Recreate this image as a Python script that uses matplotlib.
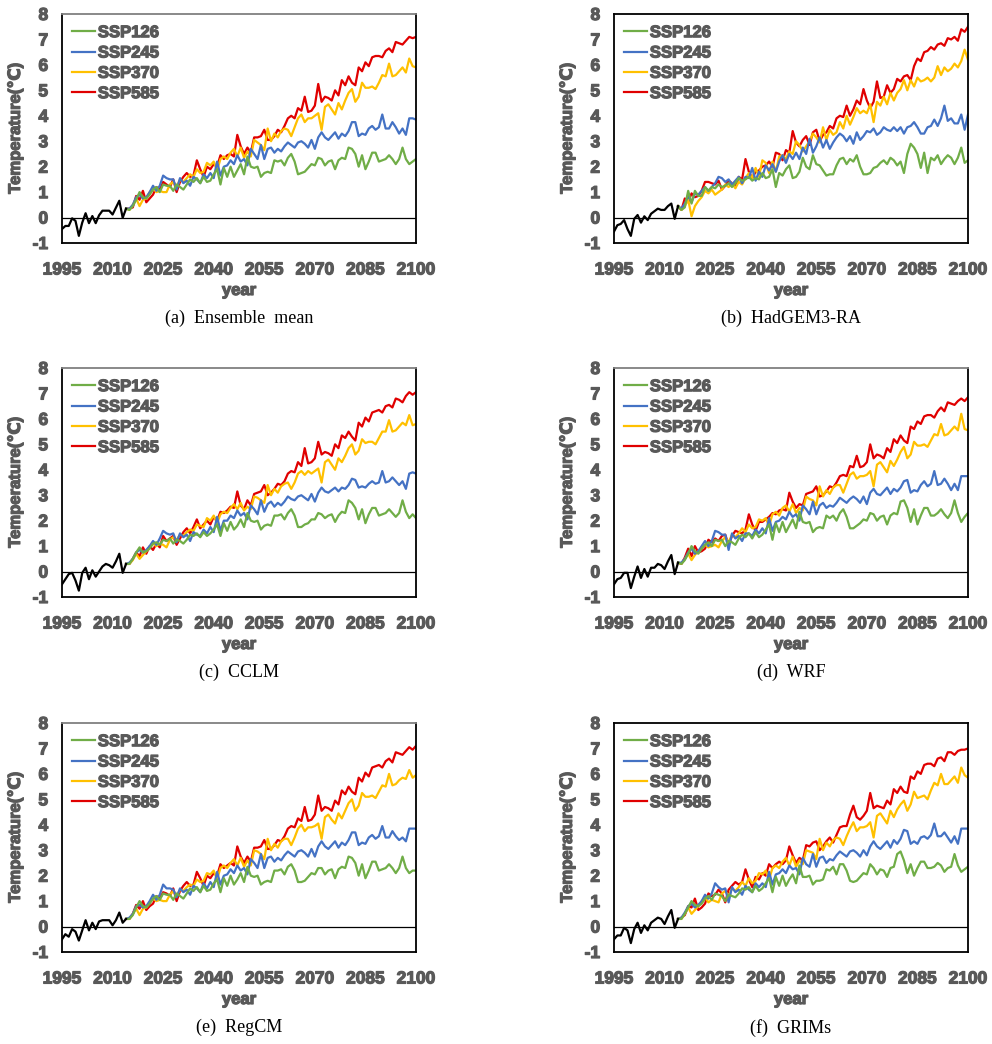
import matplotlib
matplotlib.use("Agg")
import matplotlib.pyplot as plt
import matplotlib.patheffects as pe
import numpy as np

# ---- data -------------------------------------------------------------
HIST_YEARS = list(range(1995, 2015))
SSP_YEARS = list(range(2015, 2101))
SCENARIOS = ["SSP126", "SSP245", "SSP370", "SSP585"]
X_TICKS = [1995, 2010, 2025, 2040, 2055, 2070, 2085, 2100]
Y_TICKS = [-1, 0, 1, 2, 3, 4, 5, 6, 7, 8]
CAPTIONS = ["(a)  Ensemble  mean", "(b)  HadGEM3-RA", "(c)  CCLM",
            "(d)  WRF", "(e)  RegCM", "(f)  GRIMs"]

# (a) Ensemble mean
A_HIST = [-0.45, -0.33, -0.33, -0.03, -0.13, -0.72, -0.2, 0.17, -0.22, 0.06,
          -0.22, 0.09, 0.27, 0.27, 0.27, 0.12, 0.39, 0.66, -0.01, 0.35]
A_SSP126 = [0.3, 0.45, 0.7, 1.0, 0.8, 0.75, 0.9, 1.1, 1.2, 1.0,
            1.3, 1.25, 1.25, 1.05, 1.3, 1.2, 1.1, 1.3, 1.5, 1.4,
            1.55, 1.35, 1.6, 1.4, 1.45, 1.7, 1.9, 1.3, 1.95, 1.6,
            2.0, 1.6, 1.85, 2.1, 1.7, 2.4, 2.0, 1.95, 2.0, 1.6,
            1.75, 1.8, 1.75, 2.25, 2.2, 2.25, 2.05, 2.35, 2.5, 2.2,
            1.7, 1.75, 1.8, 1.95, 2.1, 2.05, 2.35, 2.3, 2.05, 2.2,
            2.25, 1.9, 2.25, 2.35, 2.3, 2.75, 2.7, 2.5, 2.0, 2.45,
            1.9, 2.2, 2.55, 2.55, 2.2, 2.25, 2.3, 2.45, 2.3, 2.1,
            2.3, 2.75, 2.3, 2.1, 2.2, 2.3]
A_SSP245 = [0.35, 0.5, 0.8, 0.9, 0.75, 0.8, 1.0, 1.25, 1.05, 1.25,
            1.65, 1.55, 1.5, 1.5, 1.1, 1.55, 1.35, 1.45, 1.25, 1.6,
            1.5, 1.35, 1.7, 1.55, 1.75, 1.55, 2.2, 1.65, 2.0, 2.05,
            2.25, 2.1, 2.45, 2.2, 2.3, 2.05, 2.7, 2.5, 2.3, 2.85,
            2.3, 2.7, 2.75, 2.55, 2.7, 2.6, 2.8, 2.95, 2.85, 2.75,
            2.95, 3.0, 2.9, 2.75, 3.05, 2.7, 3.15, 3.35, 3.15, 3.05,
            3.2, 3.35, 3.1, 3.3, 3.2, 3.4, 3.75, 3.75, 3.2, 3.3,
            3.25, 3.5, 3.6, 3.45, 3.55, 4.05, 3.5, 3.5, 3.75, 3.55,
            3.3, 3.5, 3.25, 3.9, 3.9, 3.85]
A_SSP370 = [0.3, 0.5, 0.75, 0.45, 0.7, 0.75, 1.0, 1.15, 1.0, 1.05,
            1.0, 1.0, 1.3, 1.4, 1.2, 1.5, 1.4, 1.55, 1.7, 1.6,
            1.9, 1.75, 1.8, 2.15, 2.05, 2.2, 1.85, 2.3, 2.4, 2.3,
            2.55, 2.7, 2.4, 2.75, 2.35, 2.6, 2.4, 3.05, 2.95, 2.85,
            2.65, 3.5, 3.0, 3.3, 3.15, 3.4, 3.5, 3.45, 3.2, 3.55,
            3.9, 4.05, 3.75, 3.9, 3.9, 4.0, 4.1, 3.45, 4.35, 4.45,
            4.25, 4.05, 4.5, 4.25, 4.6, 4.9, 5.05, 4.55, 4.75, 5.3,
            5.1, 5.1, 5.15, 5.05, 5.3, 5.6, 5.55, 6.05, 5.55, 5.6,
            5.75, 5.9, 5.7, 6.25, 5.95, 5.9]
A_SSP585 = [0.35, 0.4, 0.85, 0.7, 1.05, 0.6, 0.75, 0.9, 1.2, 1.1,
            1.4, 1.3, 1.2, 1.5, 1.0, 1.4, 1.6, 1.75, 1.6, 1.65,
            2.25, 1.9, 1.6, 2.0, 1.9, 2.1, 2.0, 2.45, 2.3, 2.45,
            2.5, 2.4, 3.25, 2.8, 2.5, 2.75, 2.55, 3.15, 3.15, 3.2,
            3.45, 3.05, 3.05, 3.2, 3.45, 3.35, 3.6, 3.9, 4.0, 3.9,
            4.3, 4.2, 4.75, 4.15, 4.2, 4.4, 5.25, 4.55, 4.75, 4.7,
            4.6, 5.0, 4.8, 5.4, 5.2, 5.55, 5.3, 5.2, 5.9, 5.75,
            6.1, 5.95, 6.3, 6.35, 6.35, 6.3, 6.55, 6.65, 6.5, 6.9,
            6.85, 6.8, 6.95, 7.1, 7.05, 7.1]

# (b) HadGEM3-RA
B_HIST = [-0.55, -0.3, -0.25, -0.1, -0.45, -0.72, -0.05, 0.1, -0.2, 0.05,
          -0.1, 0.15, 0.25, 0.35, 0.3, 0.3, 0.45, 0.55, -0.05, 0.45]
B_SSP126 = [0.3, 0.4, 1.05, 0.55, 1.05, 0.85, 0.85, 1.2, 1.05, 1.2,
            1.15, 1.3, 1.2, 1.25, 1.35, 1.2, 1.35, 1.55, 1.45, 1.5,
            1.6, 1.45, 1.55, 1.5, 1.75, 1.55, 1.6, 1.9, 1.2, 1.75,
            1.65, 1.9, 2.05, 1.55, 1.6, 1.8, 2.35, 2.0, 1.9, 2.45,
            2.1, 2.05, 1.85, 1.65, 1.7, 1.7, 2.05, 2.3, 2.35, 2.1,
            2.3, 2.2, 2.45, 2.0, 1.7, 1.7, 1.75, 1.95, 2.0, 2.15,
            2.25, 2.1, 2.35, 2.25, 2.05, 2.2, 1.75, 2.5, 2.9, 2.75,
            2.5, 1.95, 2.55, 1.75, 2.35, 2.25, 2.45, 2.1, 2.3, 2.45,
            2.35, 2.1, 2.35, 2.75, 2.15, 2.25]
B_SSP245 = [0.35, 0.55, 0.85, 0.6, 0.95, 0.9, 1.05, 1.2, 1.05, 1.2,
            1.35, 1.6, 1.55, 1.4, 1.5, 1.3, 1.45, 1.6, 1.35, 1.6,
            1.55, 1.95, 1.45, 1.8, 1.6, 2.05, 1.85, 2.1, 1.8, 2.2,
            2.45, 2.15, 2.5, 2.3, 2.55, 2.3, 2.75, 2.5, 3.1, 2.55,
            2.8, 3.15, 2.75, 3.05, 2.7, 2.95, 3.15, 3.3, 3.2, 3.0,
            3.2, 2.9, 3.35, 3.05, 3.2, 3.4, 3.35, 3.5, 3.25, 3.35,
            3.55, 3.45, 3.4, 3.55, 3.4, 3.55, 3.3, 3.55, 3.6, 3.75,
            3.55, 3.3, 3.3, 3.55, 3.6, 3.85, 3.6, 3.9, 4.4, 3.8,
            3.9, 3.7, 3.7, 4.05, 3.45, 4.05]
B_SSP370 = [0.3, 0.45, 0.7, 0.05, 0.45, 0.65, 0.8, 1.05, 0.95, 1.1,
            0.9, 1.0, 1.1, 1.3, 1.2, 1.35, 1.15, 1.4, 1.3, 1.55,
            1.75, 1.55, 1.95, 1.6, 2.25, 2.15, 1.75, 2.2, 1.8, 2.4,
            2.45, 2.3, 2.6, 2.5, 3.0, 2.85, 2.6, 2.8, 3.0, 3.3,
            3.15, 2.95, 3.55, 3.05, 3.45, 3.25, 3.35, 3.75, 3.5, 4.0,
            3.65, 3.95, 4.3, 4.1, 4.2, 4.1, 4.45, 3.75, 4.55, 4.4,
            4.75, 4.45, 4.9, 4.6, 4.9, 5.05, 5.4, 5.0, 5.4, 5.15,
            5.5, 5.35, 5.4, 5.5, 5.35, 5.5, 5.95, 5.6, 5.9, 5.75,
            5.85, 6.05, 5.9, 6.15, 6.6, 6.2]
B_SSP585 = [0.3, 0.75, 0.6, 0.95, 0.8, 0.85, 1.05, 1.4, 1.4, 1.35,
            1.3, 1.45, 1.1, 1.25, 1.45, 1.35, 1.2, 1.6, 1.5, 2.3,
            1.8, 1.55, 1.8, 1.85, 2.0, 2.05, 2.2, 2.0, 2.55, 2.5,
            2.25, 2.65, 2.55, 3.4, 2.95, 2.8, 3.05, 3.2, 2.85, 3.35,
            3.45, 3.0, 3.25, 3.35, 3.6, 3.5, 3.9, 4.0, 3.95, 4.4,
            4.0, 4.25, 4.6, 4.45, 5.05, 4.6, 4.3, 4.55, 5.35, 4.7,
            4.75, 5.2, 4.9, 5.05, 5.45, 5.35, 5.55, 5.6, 5.4, 5.95,
            6.25, 6.15, 6.5, 6.55, 6.7, 6.6, 6.8, 6.85, 6.75, 7.05,
            7.0, 7.1, 6.95, 7.4, 7.3, 7.5]

# (c) CCLM
C_HIST = [-0.5, -0.3, -0.1, -0.05, -0.35, -0.75, -0.05, 0.15, -0.3, 0.05,
          -0.2, 0.0, 0.2, 0.3, 0.25, 0.15, 0.4, 0.7, -0.05, 0.3]
C_SSP126 = [0.3, 0.5, 0.75, 0.95, 0.75, 0.8, 0.9, 1.1, 1.15, 1.05,
            1.25, 1.2, 1.3, 1.1, 1.25, 1.2, 1.1, 1.25, 1.45, 1.4,
            1.5, 1.35, 1.55, 1.4, 1.5, 1.65, 1.85, 1.4, 1.9, 1.6,
            1.95, 1.65, 1.8, 2.05, 1.75, 2.3, 2.0, 1.95, 2.0, 1.65,
            1.8, 1.85, 1.8, 2.2, 2.2, 2.25, 2.05, 2.3, 2.45, 2.2,
            1.75, 1.75, 1.85, 1.9, 2.05, 2.05, 2.3, 2.25, 2.1, 2.2,
            2.25, 1.95, 2.2, 2.35, 2.3, 2.8, 2.7, 2.5, 2.05, 2.45,
            1.9, 2.25, 2.5, 2.5, 2.2, 2.25, 2.3, 2.45, 2.3, 2.15,
            2.3, 2.8, 2.35, 2.1, 2.25, 2.1]
C_SSP245 = [0.35, 0.5, 0.75, 0.85, 0.75, 0.85, 1.0, 1.2, 1.05, 1.3,
            1.6, 1.5, 1.45, 1.5, 1.15, 1.5, 1.35, 1.45, 1.2, 1.55,
            1.45, 1.4, 1.65, 1.5, 1.75, 1.55, 2.15, 1.6, 2.0, 2.0,
            2.2, 2.1, 2.4, 2.2, 2.3, 2.05, 2.6, 2.45, 2.25, 2.8,
            2.35, 2.65, 2.75, 2.55, 2.7, 2.6, 2.75, 2.95, 2.85, 2.8,
            2.95, 3.0, 2.9, 2.8, 3.05, 2.75, 3.1, 3.3, 3.15, 3.1,
            3.2, 3.3, 3.15, 3.3, 3.25, 3.4, 3.65, 3.6, 3.3, 3.35,
            3.3, 3.45, 3.55, 3.45, 3.5, 3.95, 3.5, 3.55, 3.7, 3.55,
            3.4, 3.55, 3.25, 3.85, 3.9, 3.85]
C_SSP370 = [0.3, 0.45, 0.7, 0.5, 0.65, 0.8, 0.95, 1.1, 1.0, 1.1,
            1.05, 0.95, 1.25, 1.35, 1.25, 1.45, 1.4, 1.55, 1.65, 1.6,
            1.85, 1.8, 1.75, 2.1, 2.0, 2.2, 1.9, 2.25, 2.35, 2.3,
            2.5, 2.65, 2.45, 2.7, 2.4, 2.55, 2.45, 2.95, 2.9, 2.8,
            2.7, 3.4, 3.0, 3.25, 3.1, 3.35, 3.45, 3.5, 3.25, 3.5,
            3.85, 3.95, 3.8, 3.95, 3.85, 3.95, 4.05, 3.5, 4.3, 4.4,
            4.2, 4.0, 4.45, 4.3, 4.55, 4.85, 5.0, 4.6, 4.75, 5.2,
            5.05, 5.1, 5.1, 5.0, 5.25, 5.5, 5.5, 5.95, 5.5, 5.55,
            5.7, 5.85, 5.75, 6.15, 5.75, 5.8]
C_SSP585 = [0.3, 0.5, 0.75, 0.6, 0.95, 0.7, 1.0, 0.85, 1.1, 0.95,
            1.4, 1.2, 1.3, 1.4, 1.05, 1.3, 1.55, 1.7, 1.5, 1.75,
            2.05, 1.7, 1.85, 2.0, 1.85, 2.15, 2.0, 2.35, 2.3, 2.4,
            2.55, 2.5, 3.15, 2.6, 2.45, 2.8, 2.6, 3.05, 3.1, 3.15,
            3.4, 3.0, 3.1, 3.25, 3.45, 3.4, 3.55, 3.85, 3.95, 3.9,
            4.3, 4.15, 4.85, 4.25, 4.3, 4.45, 5.1, 4.6, 4.7, 4.65,
            4.55, 5.0, 4.85, 5.35, 5.25, 5.5, 5.3, 5.15, 5.85, 5.7,
            6.05, 5.9, 6.25, 6.3, 6.35, 6.25, 6.5, 6.55, 6.45, 6.8,
            6.75, 6.65, 6.9, 7.05, 6.95, 7.05]

# (d) WRF
D_HIST = [-0.5, -0.3, -0.25, -0.05, -0.05, -0.65, -0.2, 0.2, -0.25, 0.1,
          -0.2, 0.15, 0.15, 0.3, 0.25, 0.1, 0.4, 0.65, -0.1, 0.35]
D_SSP126 = [0.3, 0.45, 0.7, 1.0, 0.8, 0.7, 0.9, 1.05, 1.15, 1.0,
            1.25, 1.2, 1.25, 1.0, 1.2, 1.15, 1.05, 1.3, 1.45, 1.35,
            1.5, 1.3, 1.55, 1.35, 1.45, 1.65, 1.85, 1.25, 1.9, 1.55,
            1.95, 1.55, 1.8, 2.05, 1.7, 2.35, 1.95, 1.9, 1.95, 1.55,
            1.7, 1.75, 1.7, 2.2, 2.1, 2.2, 2.0, 2.3, 2.45, 2.15,
            1.7, 1.7, 1.8, 1.9, 2.05, 2.0, 2.3, 2.25, 2.0, 2.15,
            2.2, 1.85, 2.2, 2.3, 2.25, 2.75, 2.8, 2.5, 1.95, 2.45,
            1.85, 2.2, 2.5, 2.5, 2.2, 2.2, 2.3, 2.45, 2.25, 2.1,
            2.3, 2.8, 2.3, 1.95, 2.15, 2.3]
D_SSP245 = [0.35, 0.5, 0.75, 0.9, 0.7, 0.8, 1.0, 1.2, 1.0, 1.2,
            1.6, 1.55, 1.45, 1.45, 0.85, 1.5, 1.3, 1.4, 1.2, 1.5,
            1.5, 1.4, 1.65, 1.5, 1.7, 1.5, 2.1, 1.6, 1.95, 2.0,
            2.15, 2.05, 2.35, 2.15, 2.25, 2.0, 2.6, 2.45, 2.25, 2.75,
            2.25, 2.6, 2.7, 2.5, 2.6, 2.55, 2.7, 2.9, 2.8, 2.7,
            2.85, 2.95, 2.85, 2.7, 2.95, 2.65, 3.1, 3.25, 3.05, 3.0,
            3.15, 3.3, 3.05, 3.25, 3.15, 3.3, 3.55, 3.6, 3.1, 3.2,
            3.15, 3.4, 3.55, 3.35, 3.45, 3.95, 3.4, 3.45, 3.65, 3.45,
            3.2, 3.45, 3.2, 3.75, 3.75, 3.75]
D_SSP370 = [0.3, 0.5, 0.7, 0.45, 0.65, 0.8, 0.95, 1.05, 0.95, 1.0,
            1.05, 0.95, 1.2, 1.35, 1.15, 1.45, 1.35, 1.5, 1.7, 1.55,
            1.85, 1.7, 1.75, 2.05, 2.0, 2.1, 1.8, 2.25, 2.35, 2.2,
            2.5, 2.6, 2.35, 2.65, 2.3, 2.5, 2.4, 2.95, 2.85, 2.8,
            2.6, 3.35, 2.95, 3.2, 3.05, 3.3, 3.4, 3.4, 3.1, 3.45,
            3.8, 3.9, 3.65, 3.75, 3.75, 3.8, 3.95, 3.35, 4.2, 4.3,
            4.1, 3.9, 4.35, 4.15, 4.4, 4.7, 4.9, 4.45, 4.6, 5.1,
            4.95, 4.95, 5.0, 4.9, 5.15, 5.4, 5.35, 5.8, 5.35, 5.4,
            5.55, 5.7, 5.55, 6.2, 5.6, 5.55]
D_SSP585 = [0.3, 0.55, 0.9, 0.6, 1.0, 0.75, 0.8, 0.9, 1.25, 1.15,
            1.3, 1.2, 1.4, 1.45, 1.05, 1.4, 1.6, 1.55, 1.5, 1.65,
            2.25, 1.85, 1.6, 1.95, 1.95, 2.05, 2.15, 2.3, 2.25, 2.4,
            2.45, 2.4, 3.1, 2.75, 2.5, 2.65, 2.6, 3.05, 3.1, 3.15,
            3.35, 2.95, 3.0, 3.15, 3.35, 3.3, 3.5, 3.75, 3.8, 3.75,
            4.15, 4.1, 4.55, 4.1, 4.15, 4.3, 5.0, 4.45, 4.6, 4.55,
            4.45, 4.85, 4.7, 5.2, 5.05, 5.35, 5.15, 5.05, 5.7, 5.6,
            5.9, 5.8, 6.1, 6.15, 6.15, 6.05, 6.3, 6.45, 6.3, 6.65,
            6.6, 6.55, 6.7, 6.8, 6.7, 6.85]

# (e) RegCM
E_HIST = [-0.5, -0.3, -0.4, -0.1, -0.2, -0.55, -0.15, 0.25, -0.15, 0.15,
          -0.1, 0.2, 0.25, 0.25, 0.25, 0.05, 0.25, 0.55, 0.15, 0.3]
E_SSP126 = [0.3, 0.45, 0.75, 1.0, 0.8, 0.75, 0.9, 1.1, 1.2, 1.05,
            1.3, 1.25, 1.25, 1.05, 1.3, 1.2, 1.1, 1.3, 1.5, 1.4,
            1.55, 1.35, 1.6, 1.4, 1.45, 1.7, 1.85, 1.35, 1.9, 1.6,
            2.0, 1.65, 1.85, 2.1, 1.75, 2.35, 2.0, 1.95, 2.0, 1.65,
            1.75, 1.8, 1.75, 2.2, 2.2, 2.25, 2.05, 2.35, 2.45, 2.2,
            1.75, 1.75, 1.8, 1.95, 2.1, 2.05, 2.3, 2.3, 2.05, 2.2,
            2.25, 1.9, 2.25, 2.35, 2.3, 2.75, 2.7, 2.5, 2.0, 2.45,
            1.9, 2.2, 2.55, 2.55, 2.2, 2.25, 2.3, 2.45, 2.3, 2.1,
            2.3, 2.75, 2.3, 2.1, 2.2, 2.2]
E_SSP245 = [0.35, 0.5, 0.8, 0.85, 0.75, 0.8, 1.0, 1.25, 1.05, 1.25,
            1.65, 1.5, 1.5, 1.45, 1.15, 1.5, 1.35, 1.45, 1.25, 1.6,
            1.5, 1.35, 1.7, 1.5, 1.75, 1.55, 2.15, 1.65, 2.0, 2.05,
            2.25, 2.1, 2.4, 2.2, 2.3, 2.05, 2.65, 2.5, 2.3, 2.85,
            2.3, 2.7, 2.75, 2.55, 2.7, 2.6, 2.8, 2.95, 2.85, 2.75,
            2.95, 3.0, 2.9, 2.75, 3.05, 2.75, 3.15, 3.35, 3.15, 3.05,
            3.2, 3.35, 3.1, 3.3, 3.2, 3.4, 3.7, 3.7, 3.2, 3.3,
            3.25, 3.5, 3.6, 3.45, 3.55, 3.95, 3.5, 3.5, 3.75, 3.55,
            3.4, 3.5, 3.35, 3.85, 3.85, 3.85]
E_SSP370 = [0.3, 0.5, 0.7, 0.45, 0.7, 0.75, 0.95, 1.1, 1.0, 1.05,
            1.0, 1.0, 1.25, 1.4, 1.2, 1.45, 1.4, 1.55, 1.65, 1.6,
            1.85, 1.75, 1.8, 2.1, 2.05, 2.2, 1.85, 2.3, 2.4, 2.3,
            2.5, 2.65, 2.4, 2.7, 2.35, 2.6, 2.4, 3.0, 2.95, 2.85,
            2.65, 3.45, 3.0, 3.25, 3.1, 3.35, 3.45, 3.45, 3.2, 3.5,
            3.85, 4.0, 3.75, 3.9, 3.9, 3.95, 4.05, 3.45, 4.3, 4.4,
            4.2, 4.05, 4.45, 4.25, 4.55, 4.85, 5.0, 4.55, 4.75, 5.25,
            5.1, 5.1, 5.15, 5.05, 5.3, 5.55, 5.5, 6.0, 5.55, 5.6,
            5.75, 5.85, 5.8, 6.15, 5.85, 5.95]
E_SSP585 = [0.3, 0.5, 0.85, 0.7, 1.0, 0.65, 0.8, 0.9, 1.2, 1.1,
            1.35, 1.3, 1.2, 1.5, 1.0, 1.4, 1.6, 1.75, 1.6, 1.65,
            2.15, 1.9, 1.6, 2.0, 1.9, 2.1, 2.0, 2.45, 2.3, 2.4,
            2.5, 2.4, 3.15, 2.75, 2.5, 2.75, 2.55, 3.1, 3.1, 3.15,
            3.4, 3.05, 3.05, 3.2, 3.4, 3.35, 3.55, 3.85, 3.95, 3.9,
            4.25, 4.15, 4.7, 4.15, 4.2, 4.4, 5.15, 4.55, 4.7, 4.65,
            4.55, 4.95, 4.8, 5.35, 5.2, 5.5, 5.3, 5.2, 5.85, 5.7,
            6.05, 5.9, 6.25, 6.3, 6.35, 6.25, 6.5, 6.6, 6.45, 6.85,
            6.8, 6.75, 6.9, 7.05, 6.95, 7.1]

# (f) GRIMs
F_HIST = [-0.5, -0.35, -0.35, -0.05, -0.15, -0.65, -0.1, 0.15, -0.25, 0.05,
          -0.15, 0.15, 0.25, 0.35, 0.3, 0.1, 0.4, 0.65, -0.05, 0.3]
F_SSP126 = [0.3, 0.5, 0.75, 1.0, 0.85, 0.8, 0.9, 1.1, 1.2, 1.05,
            1.3, 1.25, 1.2, 1.0, 1.25, 1.2, 1.15, 1.3, 1.5, 1.45,
            1.55, 1.35, 1.6, 1.4, 1.5, 1.7, 1.9, 1.35, 1.95, 1.6,
            2.0, 1.6, 1.85, 2.05, 1.7, 2.4, 1.95, 1.95, 2.0, 1.65,
            1.8, 1.8, 1.85, 2.25, 2.2, 2.35, 2.05, 2.45, 2.45, 2.2,
            1.8, 1.75, 1.8, 1.95, 2.1, 2.05, 2.45, 2.3, 2.05, 2.25,
            2.2, 1.95, 2.3, 2.35, 2.85, 2.95, 2.6, 2.1, 2.45, 2.0,
            2.3, 2.55, 2.55, 2.3, 2.3, 2.35, 2.5, 2.4, 2.15, 2.3,
            2.35, 2.85, 2.4, 2.15, 2.25, 2.35]
F_SSP245 = [0.35, 0.55, 0.8, 0.9, 0.75, 0.85, 1.0, 1.25, 1.1, 1.3,
            1.7, 1.55, 1.45, 1.5, 0.95, 1.55, 1.35, 1.45, 1.25, 1.6,
            1.45, 1.35, 1.7, 1.55, 1.7, 1.55, 2.15, 1.65, 2.05, 2.1,
            2.25, 2.1, 2.4, 2.25, 2.3, 2.05, 2.7, 2.45, 2.35, 2.85,
            2.35, 2.7, 2.75, 2.5, 2.65, 2.6, 2.8, 2.95, 2.85, 2.75,
            2.95, 3.0, 2.9, 2.75, 3.0, 2.8, 3.15, 3.35, 3.15, 3.05,
            3.2, 3.35, 3.1, 3.4, 3.25, 3.45, 3.8, 3.75, 3.25, 3.35,
            3.25, 3.5, 3.55, 3.45, 3.6, 4.05, 3.55, 3.55, 3.7, 3.5,
            3.3, 3.55, 3.25, 3.85, 3.85, 3.85]
F_SSP370 = [0.3, 0.5, 0.75, 0.5, 0.65, 0.8, 1.0, 1.15, 0.95, 1.05,
            1.0, 0.95, 1.3, 1.4, 1.2, 1.5, 1.4, 1.55, 1.75, 1.6,
            1.9, 1.7, 1.8, 2.1, 2.05, 2.2, 1.85, 2.3, 2.4, 2.3,
            2.55, 2.7, 2.4, 2.75, 2.35, 2.6, 2.45, 3.0, 2.95, 2.9,
            2.65, 3.45, 3.0, 3.3, 3.15, 3.4, 3.5, 3.45, 3.2, 3.55,
            3.85, 4.1, 3.75, 3.9, 3.9, 3.95, 4.1, 3.5, 4.35, 4.45,
            4.25, 4.05, 4.55, 4.3, 4.6, 4.8, 4.95, 4.55, 4.8, 5.3,
            5.05, 5.1, 5.15, 5.0, 5.35, 5.65, 5.55, 6.0, 5.6, 5.6,
            5.75, 5.9, 5.65, 6.25, 5.95, 5.85]
F_SSP585 = [0.35, 0.45, 0.8, 0.75, 1.1, 0.65, 0.75, 0.9, 1.3, 1.2,
            1.25, 1.45, 1.3, 0.95, 1.45, 1.6, 1.75, 1.65, 1.75, 2.25,
            1.85, 1.55, 1.95, 1.85, 2.1, 2.0, 2.45, 2.3, 2.45, 2.55,
            2.45, 2.6, 3.15, 2.8, 2.5, 2.7, 2.6, 3.2, 3.15, 3.3,
            3.35, 3.0, 3.15, 3.35, 3.5, 3.3, 3.6, 3.9, 3.95, 3.95,
            4.4, 4.75, 4.3, 4.2, 4.35, 4.55, 5.25, 4.65, 4.75, 4.7,
            4.65, 4.95, 4.8, 5.4, 5.25, 5.5, 5.3, 5.25, 5.9, 5.8,
            6.1, 6.0, 6.35, 6.4, 6.4, 6.3, 6.6, 6.65, 6.5, 6.85,
            6.85, 6.75, 6.9, 6.95, 6.95, 7.0]

PANELS = [
    (A_HIST, [A_SSP126, A_SSP245, A_SSP370, A_SSP585]),
    (B_HIST, [B_SSP126, B_SSP245, B_SSP370, B_SSP585]),
    (C_HIST, [C_SSP126, C_SSP245, C_SSP370, C_SSP585]),
    (D_HIST, [D_SSP126, D_SSP245, D_SSP370, D_SSP585]),
    (E_HIST, [E_SSP126, E_SSP245, E_SSP370, E_SSP585]),
    (F_HIST, [F_SSP126, F_SSP245, F_SSP370, F_SSP585]),
]

# ---- style ------------------------------------------------------------
COLORS = ["#70AD47", "#4472C4", "#FFC000", "#E00000"]
TEXT_GREY = "#595959"
TOP_SPINE = ["#808080", "#000000", "#808080", "#808080", "#808080", "#000000"]
# fake a heavier weight than Liberation Sans Bold offers
HEAVY = [pe.withStroke(linewidth=0.9, foreground=TEXT_GREY)]

plt.rcParams["font.family"] = ["Liberation Sans", "DejaVu Sans"]
plt.rcParams["axes.unicode_minus"] = False

fig = plt.figure(figsize=(9.92, 10.44), dpi=100)

col_left = [62 / 992, 614 / 992]
row_bottom = [1 - 243 / 1044, 1 - 597 / 1044, 1 - 952 / 1044]
ax_w = 354 / 992
ax_h = 229 / 1044

for i, (hist, ssp) in enumerate(PANELS):
    r, c = divmod(i, 2)
    ax = fig.add_axes([col_left[c], row_bottom[r], ax_w, ax_h])

    ax.axhline(0, color="black", linewidth=0.9, zorder=1)
    ax.plot(HIST_YEARS, hist, color="black", linewidth=1.6, zorder=3)
    # scenarios branch off the last historical year; SSP585 drawn on top
    yrs = [HIST_YEARS[-1]] + SSP_YEARS
    for name, vals, col in reversed(list(zip(SCENARIOS, ssp, COLORS))):
        ax.plot(yrs, [hist[-1]] + vals, color=col, linewidth=1.6,
                label=name, zorder=2)

    ax.set_xlim(1995, 2100)
    ax.set_ylim(-1, 8)
    ax.set_xticks(X_TICKS)
    ax.set_yticks(Y_TICKS)
    ax.tick_params(length=0, labelsize=12.5, labelcolor=TEXT_GREY)
    ax.tick_params(axis="x", pad=14)
    ax.tick_params(axis="y", pad=10)
    for lab in ax.get_xticklabels() + ax.get_yticklabels():
        lab.set_fontweight("bold")
        lab.set_path_effects(HEAVY)

    for side in ("left", "bottom", "right"):
        ax.spines[side].set_color("black")
        ax.spines[side].set_linewidth(1.3)
    ax.spines["top"].set_color(TOP_SPINE[i])
    ax.spines["top"].set_linewidth(1.3)

    ax.set_xlabel("year", fontsize=12, fontweight="bold", color=TEXT_GREY,
                  labelpad=4, path_effects=HEAVY)
    ax.set_ylabel("Temperature(℃)", fontsize=12, fontweight="bold",
                  color=TEXT_GREY, labelpad=7, path_effects=HEAVY)

    handles, labels = ax.get_legend_handles_labels()
    leg = ax.legend(handles[::-1], labels[::-1], loc="upper left",
                    bbox_to_anchor=(0.0, 0.995), frameon=False,
                    handlelength=1.4, handletextpad=0.15, labelspacing=0.32,
                    borderaxespad=0.2,
                    prop={"size": 12, "weight": "bold"})
    for t in leg.get_texts():
        t.set_color(TEXT_GREY)
        t.set_path_effects(HEAVY)

    ax.text(0.5, -0.33, CAPTIONS[i], transform=ax.transAxes, ha="center",
            va="center", fontsize=13, family="Liberation Serif")

fig.savefig("out.png", dpi=100)
